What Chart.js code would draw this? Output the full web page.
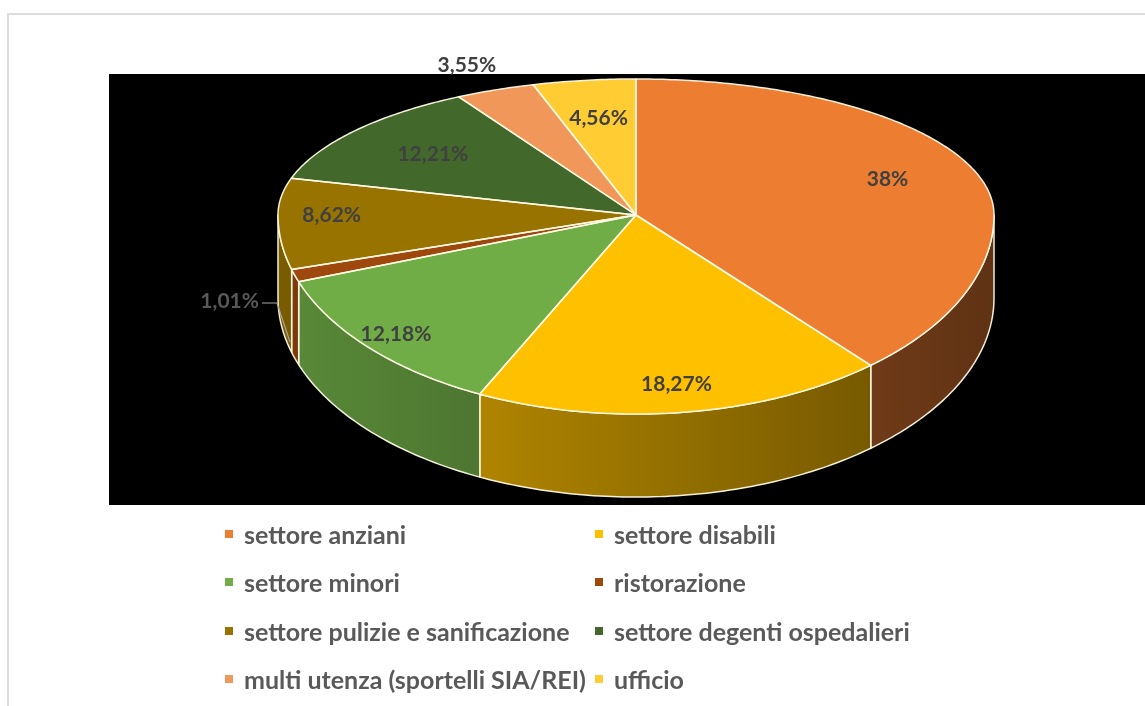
<!DOCTYPE html>
<html lang="it">
<head>
<meta charset="utf-8">
<title>Ripartizione per settore</title>
<script src="https://cdn.jsdelivr.net/npm/chart.js@4/dist/chart.umd.min.js"></script>
<style>
  html, body { margin: 0; padding: 0; background: #fff; width: 1145px; height: 706px; overflow: hidden; }
  #frame { position: absolute; left: 7px; top: 13px; width: 1300px; height: 900px; border: 2px solid #dcdcdc; box-sizing: border-box; }
  #plotBg { position: absolute; left: 109px; top: 74px; width: 1036px; height: 431px; background: #000; }
  #c { position: absolute; left: 0; top: 0; }
  #legend { position: absolute; left: 225px; top: 510px; display: grid; grid-template-columns: 370px 320px; grid-auto-rows: 48.3px;
            font-family: Lato, "Open Sans", sans-serif; font-weight: bold; font-size: 25px; color: #595959; }
  #legend .item { display: flex; align-items: center; white-space: nowrap; }
  #legend .mark { width: 8px; height: 8px; margin-right: 11px; flex: none; }
</style>
</head>
<body>
<div id="frame"></div>
<div id="plotBg"></div>
<canvas id="c" width="1145" height="706"></canvas>
<div id="legend"></div>
<script>
// Sectors and their shares (percent)
const categories = [
  'settore anziani',
  'settore disabili',
  'settore minori',
  'ristorazione',
  'settore pulizie e sanificazione',
  'settore degenti ospedalieri',
  'multi utenza (sportelli SIA/REI)',
  'ufficio'
];
const shares = [38, 18.27, 12.18, 1.01, 8.62, 12.21, 3.55, 4.56];
const sliceColors = ['#ED7D31', '#FFC000', '#70AD47', '#9E480E', '#997300', '#43682B', '#F1975A', '#FFCD33'];

// Italian formatting of the share labels
const fmt = v => String(v).replace('.', ',') + '%';

// Tilted-disc look: back half flatter than front half, plus a side wall
const tilt = { back: 0.38, front: 0.556, depth: 83 };
// Where each value label sits, as a fraction of the radius
const labelPos = [
  { f: 0.75 }, { f: 0.86 }, { f: 0.9 }, { outside: 'leader' },
  { f: 0.85 }, { f: 0.72 }, { f: 1.2 }, { f: 0.72 }
];

function shade(hex, k) {
  const n = parseInt(hex.slice(1), 16);
  const r = Math.round(((n >> 16) & 255) * k), g = Math.round(((n >> 8) & 255) * k), b = Math.round((n & 255) * k);
  return `rgb(${r},${g},${b})`;
}
function proj(cx, cy, a, rr) {
  const s = Math.sin(a) < 0 ? tilt.back : tilt.front;
  return [cx + rr * Math.cos(a), cy + rr * Math.sin(a) * s];
}

const edgeColor = 'rgba(255,250,228,0.95)';

const pie3d = {
  id: 'pie3d',
  beforeDatasetsDraw(chart) {
    const ctx = chart.ctx;
    const arcs = chart.getDatasetMeta(0).data;
    if (!arcs.length) return false;
    const cx = arcs[0].x, cy = arcs[0].y, r = arcs[0].outerRadius;
    const W = chart.width, H = chart.height;

    // side wall, only the front half (canvas angles 0..PI) is visible
    arcs.forEach((el, i) => {
      const a0 = Math.max(el.startAngle, 0), a1 = Math.min(el.endAngle, Math.PI);
      if (a1 <= a0) return;
      const steps = Math.max(4, Math.ceil((a1 - a0) * 60));
      ctx.save();
      ctx.beginPath();
      for (let k = 0; k <= steps; k++) {
        const p = proj(cx, cy, a0 + (a1 - a0) * k / steps, r);
        k ? ctx.lineTo(p[0], p[1]) : ctx.moveTo(p[0], p[1]);
      }
      for (let k = steps; k >= 0; k--) {
        const p = proj(cx, cy, a0 + (a1 - a0) * k / steps, r);
        ctx.lineTo(p[0], p[1] + tilt.depth);
      }
      ctx.closePath();
      const g = ctx.createLinearGradient(cx - r, 0, cx + r, 0);
      g.addColorStop(0, shade(sliceColors[i], 0.8));
      g.addColorStop(1, shade(sliceColors[i], 0.4));
      ctx.fillStyle = g;
      ctx.fill();
      ctx.strokeStyle = edgeColor;
      ctx.lineWidth = 1.5;
      ctx.lineJoin = 'round';
      ctx.stroke();
      ctx.restore();
    });

    // top face: the library's own arcs, squashed differently behind and in front of the centre
    [[0, cy, tilt.back], [cy, H - cy, tilt.front]].forEach(([top, h, s]) => {
      ctx.save();
      ctx.beginPath();
      ctx.rect(0, top, W, h);
      ctx.clip();
      ctx.translate(0, cy);
      ctx.scale(1, s);
      ctx.translate(0, -cy);
      arcs.forEach(el => el.draw(ctx));
      ctx.restore();
    });

    // slice outlines on the top face
    ctx.save();
    ctx.strokeStyle = edgeColor;
    ctx.lineWidth = 1.5;
    ctx.lineJoin = 'round';
    arcs.forEach(el => {
      const a0 = el.startAngle, a1 = el.endAngle;
      const steps = Math.max(4, Math.ceil((a1 - a0) * 80));
      ctx.beginPath();
      ctx.moveTo(cx, cy);
      for (let k = 0; k <= steps; k++) {
        const p = proj(cx, cy, a0 + (a1 - a0) * k / steps, r);
        ctx.lineTo(p[0], p[1]);
      }
      ctx.closePath();
      ctx.stroke();
    });
    ctx.restore();
    return false;
  },
  afterDraw(chart) {
    const ctx = chart.ctx;
    const arcs = chart.getDatasetMeta(0).data;
    if (!arcs.length) return;
    const cx = arcs[0].x, cy = arcs[0].y, r = arcs[0].outerRadius;
    ctx.save();
    ctx.font = 'bold 21px Lato, "Open Sans", sans-serif';
    ctx.textBaseline = 'middle';
    arcs.forEach((el, i) => {
      const mid = (el.startAngle + el.endAngle) / 2;
      const cfg = labelPos[i];
      const text = fmt(shares[i]);
      if (cfg.outside === 'leader') {
        // label left of the disc with an elbow leader line down to the wall
        const p = proj(cx, cy, mid, r);
        const ax = p[0] - 5, ay = p[1] + tilt.depth * 0.8;
        const ex = ax - 13, ey = ay - 39;
        ctx.strokeStyle = '#a6a6a6';
        ctx.lineWidth = 1.2;
        ctx.beginPath();
        ctx.moveTo(ax, ay);
        ctx.lineTo(ex, ey);
        ctx.lineTo(ex - 15, ey);
        ctx.stroke();
        ctx.fillStyle = '#595959';
        ctx.textAlign = 'right';
        ctx.fillText(text, ex - 18, ey - 2);
      } else {
        const p = proj(cx, cy, mid, r * cfg.f);
        ctx.fillStyle = '#404040';
        ctx.textAlign = 'center';
        ctx.fillText(text, p[0], p[1]);
      }
    });
    ctx.restore();
  }
};

new Chart(document.getElementById('c'), {
  type: 'pie',
  data: {
    labels: categories,
    datasets: [{
      data: shares,
      backgroundColor: sliceColors,
      borderWidth: 0,
      clip: false
    }]
  },
  options: {
    responsive: false,
    animation: false,
    radius: 358,
    layout: { padding: { left: 127, right: 0, top: 0, bottom: 276 } },
    plugins: { legend: { display: false }, tooltip: { enabled: false } },
    events: []
  },
  plugins: [pie3d]
});

// legend in two columns, same order as the slices
const legend = document.getElementById('legend');
categories.forEach((name, i) => {
  const item = document.createElement('div');
  item.className = 'item';
  const mark = document.createElement('span');
  mark.className = 'mark';
  mark.style.background = sliceColors[i];
  item.appendChild(mark);
  item.appendChild(document.createTextNode(name));
  legend.appendChild(item);
});
</script>
</body>
</html>
